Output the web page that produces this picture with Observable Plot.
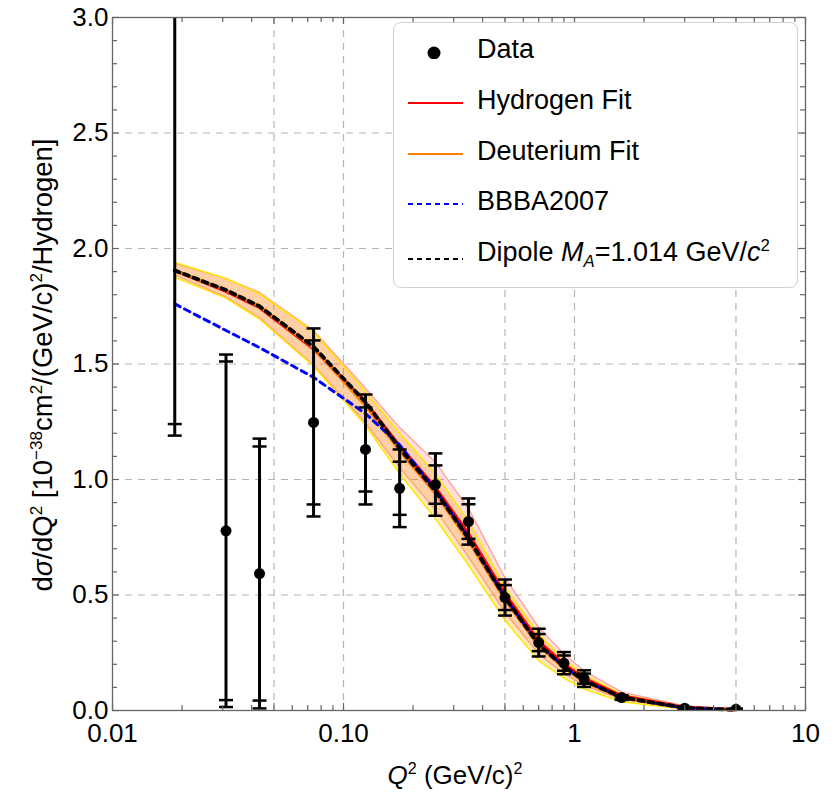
<!DOCTYPE html>
<html>
<head>
<meta charset="utf-8">
<script src="https://cdn.jsdelivr.net/npm/d3@7"></script>
<script src="https://cdn.jsdelivr.net/npm/@observablehq/plot@0.6"></script>
<style>
  body { margin: 0; background: white; font-family: "Liberation Sans", Arial, sans-serif; }
  #wrap { position: relative; width: 833px; height: 793px; }
  .ov { position: absolute; color: black; white-space: nowrap; font-size: 26px; }
  sup, sub { font-size: 0.62em; line-height: 0; }
  #legend { position: absolute; left: 393px; top: 22px; width: 405px; height: 266px; box-sizing: border-box;
            border: 1.5px solid #d0d0d0; border-radius: 8px; background: white; }
  .row { position: absolute; left: 0; height: 40px; display: flex; align-items: center; }
  .row svg { width: 70px; height: 20px; margin-left: 12px; flex: none; }
  .row span.t { margin-left: 1px; font-size: 27px; }
</style>
</head>
<body>
<div id="wrap"></div>
<script>
// ---- data ----
const q2      = [0.0186, 0.031, 0.0433, 0.0742, 0.1245, 0.175, 0.25, 0.3475, 0.5, 0.7, 0.9, 1.1, 1.6, 3.0, 5.0];
const xsec    = [3.25, 0.778, 0.593, 1.247, 1.13, 0.962, 0.978, 0.818, 0.489, 0.294, 0.205, 0.138, 0.056, 0.010, 0.005];
const statErr = [2.01, 0.733, 0.55, 0.355, 0.182, 0.115, 0.083, 0.075, 0.054, 0.037, 0.033, 0.022, 0.006, 0.003, 0.002];
const totErr  = [2.06, 0.763, 0.584, 0.407, 0.238, 0.168, 0.135, 0.100, 0.078, 0.060, 0.048, 0.036, 0.010, 0.005, 0.003];

const dipole  = [1.905, 1.82, 1.75, 1.575, 1.335, 1.135, 0.95, 0.745, 0.49, 0.285, 0.19, 0.13, 0.057, 0.011, 0.003];
const hydFit  = [1.905, 1.815, 1.745, 1.565, 1.335, 1.145, 0.965, 0.765, 0.505, 0.30, 0.20, 0.14, 0.063, 0.014, 0.004];
const deutFit = [1.905, 1.82, 1.75, 1.57, 1.32, 1.125, 0.94, 0.735, 0.48, 0.28, 0.185, 0.125, 0.054, 0.010, 0.003];
const bbba    = [1.76, 1.645, 1.571, 1.442, 1.285, 1.15, 0.955, 0.75, 0.49, 0.285, 0.19, 0.13, 0.056, 0.011, 0.003];

const hydLo  = [1.885, 1.79, 1.70, 1.495, 1.245, 1.05, 0.87, 0.665, 0.425, 0.245, 0.16, 0.11, 0.048, 0.008, 0.002];
const hydHi  = [1.935, 1.87, 1.81, 1.645, 1.395, 1.225, 1.075, 0.875, 0.575, 0.36, 0.245, 0.172, 0.08, 0.02, 0.007];
const deutLo = [1.875, 1.785, 1.695, 1.49, 1.235, 1.025, 0.83, 0.63, 0.39, 0.215, 0.14, 0.093, 0.038, 0.005, 0.001];
const deutHi = [1.94, 1.87, 1.805, 1.64, 1.38, 1.20, 1.025, 0.82, 0.535, 0.33, 0.22, 0.155, 0.07, 0.016, 0.005];

const xTicks  = [0.01, 0.05, 0.1, 0.5, 1, 5, 10];
const xLabels = ["0.01", "0.05", "0.10", "0.50", "1", "5", "10"];
const xGrid   = [0.05, 0.1, 0.5, 1, 5];
const xMinor  = [0.02, 0.03, 0.04, 0.06, 0.07, 0.08, 0.09, 0.2, 0.3, 0.4, 0.6, 0.7, 0.8, 0.9, 2, 3, 4, 6, 7, 8, 9];
const yTicks  = [0, 0.5, 1, 1.5, 2, 2.5, 3];
const yLabels = ["0.0", "0.5", "1.0", "1.5", "2.0", "2.5", "3.0"];
const yGrid   = [0.5, 1, 1.5, 2, 2.5];
const yMinor  = d3.range(1, 30).map(i => i / 10).filter(v => Math.abs(v * 2 - Math.round(v * 2)) > 1e-6);

// ---- tables ----
const pts = q2.map((q, i) => ({q, v: xsec[i], s: statErr[i], t: totErr[i]}));
const curves = q2.map((q, i) => ({q, dip: dipole[i], h: hydFit[i], d: deutFit[i], b: bbba[i],
  hLo: hydLo[i], hHi: hydHi[i], dLo: deutLo[i], dHi: deutHi[i]}));

const W = 833, H = 793, mL = 112, mR = 28, mT = 17, mB = 83;
const pW = W - mL - mR, pH = H - mT - mB;
const major = 7, minor = 5;
const axisColor = "#666";

const cap = {draw(ctx, size) { const r = Math.sqrt(size / Math.PI); ctx.moveTo(-r, 0); ctx.lineTo(r, 0); }};

const chart = Plot.plot({
  width: W, height: H,
  marginLeft: mL, marginRight: mR, marginTop: mT, marginBottom: mB,
  x: {type: "log", domain: [0.01, 10]},
  y: {domain: [0, 3]},
  style: {fontFamily: "Liberation Sans, Arial, sans-serif", fontSize: "26px", color: "black", background: "white", overflow: "visible"},
  marks: [
    Plot.gridX(xGrid, {stroke: "#b4b4b4", strokeOpacity: 1, strokeDasharray: "7,6", strokeWidth: 1.2}),
    Plot.gridY(yGrid, {stroke: "#b4b4b4", strokeOpacity: 1, strokeDasharray: "7,6", strokeWidth: 1.2}),
    // bands
    Plot.areaY(curves, {x: "q", y1: "hLo", y2: "hHi", fill: "#ff0000", fillOpacity: 0.13}),
    Plot.line(curves, {x: "q", y: "hHi", stroke: "#ff9a9a", strokeWidth: 1.2}),
    Plot.line(curves, {x: "q", y: "hLo", stroke: "#ff9a9a", strokeWidth: 1.2}),
    Plot.areaY(curves, {x: "q", y1: "dLo", y2: "dHi", fill: "#ffa500", fillOpacity: 0.25}),
    Plot.line(curves, {x: "q", y: "dHi", stroke: "#ffe600", strokeWidth: 1.5}),
    Plot.line(curves, {x: "q", y: "dLo", stroke: "#ffe600", strokeWidth: 1.5}),
    // fit lines
    Plot.line(curves, {x: "q", y: "h", stroke: "#ff0000", strokeWidth: 3.2}),
    Plot.line(curves, {x: "q", y: "d", stroke: "#ff7f00", strokeWidth: 3.2}),
    Plot.line(curves, {x: "q", y: "b", stroke: "#0000ff", strokeWidth: 3, strokeDasharray: "6,5"}),
    Plot.line(curves, {x: "q", y: "dip", stroke: "black", strokeWidth: 3.8, strokeDasharray: "5,5"}),
    // data with error bars
    Plot.ruleX(pts, {x: "q", y1: d => d.v - d.t, y2: d => d.v + d.t, stroke: "black", strokeWidth: 3, clip: true}),
    Plot.dot(pts, {x: "q", y: d => d.v - d.t, symbol: cap, r: 7, stroke: "black", strokeWidth: 2.5, fill: "none", clip: true}),
    Plot.dot(pts, {x: "q", y: d => d.v + d.t, symbol: cap, r: 7, stroke: "black", strokeWidth: 2.5, fill: "none", clip: true}),
    Plot.dot(pts, {x: "q", y: d => d.v - d.s, symbol: cap, r: 7, stroke: "black", strokeWidth: 2.5, fill: "none", clip: true}),
    Plot.dot(pts, {x: "q", y: d => d.v + d.s, symbol: cap, r: 7, stroke: "black", strokeWidth: 2.5, fill: "none", clip: true}),
    Plot.dot(pts, {x: "q", y: "v", r: 5.5, fill: "black", clip: true}),
    // frame and inward ticks
    Plot.frame({stroke: axisColor, strokeWidth: 1.3}),
    Plot.tickX(xTicks, {x: d => d, insetTop: pH - major, stroke: axisColor, strokeWidth: 1.2}),
    Plot.tickX(xMinor, {x: d => d, insetTop: pH - minor, stroke: axisColor, strokeWidth: 1.2}),
    Plot.tickX(xTicks, {x: d => d, insetBottom: pH - major, stroke: axisColor, strokeWidth: 1.2}),
    Plot.tickX(xMinor, {x: d => d, insetBottom: pH - minor, stroke: axisColor, strokeWidth: 1.2}),
    Plot.tickY(yTicks, {y: d => d, insetRight: pW - major, stroke: axisColor, strokeWidth: 1.2}),
    Plot.tickY(yMinor, {y: d => d, insetRight: pW - minor, stroke: axisColor, strokeWidth: 1.2}),
    Plot.tickY(yTicks, {y: d => d, insetLeft: pW - major, stroke: axisColor, strokeWidth: 1.2}),
    Plot.tickY(yMinor, {y: d => d, insetLeft: pW - minor, stroke: axisColor, strokeWidth: 1.2}),
    // tick labels
    Plot.axisX(xTicks, {tickSize: 0, tickPadding: 13, label: null, tickFormat: d => xLabels[xTicks.indexOf(d)]}),
    Plot.axisY(yTicks, {tickSize: 0, tickPadding: 4, label: null, tickFormat: d => yLabels[yTicks.indexOf(d)]})
  ]
});

const wrap = document.getElementById("wrap");
wrap.appendChild(chart);

// axis titles
const yTitle = document.createElement("div");
yTitle.className = "ov";
yTitle.style.fontSize = "27.5px";
yTitle.innerHTML = 'd<i>σ</i>/dQ<sup>2</sup> [10<sup>−38</sup>cm<sup>2</sup>/(GeV/c)<sup>2</sup>/Hydrogen]';
yTitle.style.left = "43px"; yTitle.style.top = "365px";
yTitle.style.transform = "translate(-50%,-50%) rotate(-90deg)";
wrap.appendChild(yTitle);

const xTitle = document.createElement("div");
xTitle.className = "ov";
xTitle.innerHTML = '<i>Q</i><sup>2</sup> (GeV/c)<sup>2</sup>';
xTitle.style.left = "455px"; xTitle.style.top = "775px";
xTitle.style.transform = "translate(-50%,-50%)";
wrap.appendChild(xTitle);

// legend
const legendItems = [
  {label: "Data", kind: "dot"},
  {label: "Hydrogen Fit", kind: "line", color: "#ff0000", dash: null},
  {label: "Deuterium Fit", kind: "line", color: "#ff7f00", dash: null},
  {label: "BBBA2007", kind: "line", color: "#0000ff", dash: "5,4"},
  {label: 'Dipole <i>M</i><sub><i>A</i></sub>=1.014 GeV/<i>c</i><sup>2</sup>', kind: "line", color: "black", dash: "5,4"}
];
const rowCenters = [26, 77, 128, 178, 229];
const lineY = [12, 13, 13, 13, 17];
const leg = document.createElement("div");
leg.id = "legend";
legendItems.forEach((it, i) => {
  const row = document.createElement("div");
  row.className = "row";
  row.style.top = (rowCenters[i] - 20) + "px";
  let sym;
  if (it.kind === "dot") sym = '<svg viewBox="0 0 70 20"><circle cx="28" cy="14" r="6.5" fill="black"/></svg>';
  else sym = `<svg viewBox="0 0 70 20"><line x1="2" x2="57" y1="${lineY[i]}" y2="${lineY[i]}" stroke="${it.color}" stroke-width="2.2" ${it.dash ? `stroke-dasharray="${it.dash}"` : ""}/></svg>`;
  row.innerHTML = sym + `<span class="t">${it.label}</span>`;
  leg.appendChild(row);
});
wrap.appendChild(leg);
</script>
</body>
</html>
